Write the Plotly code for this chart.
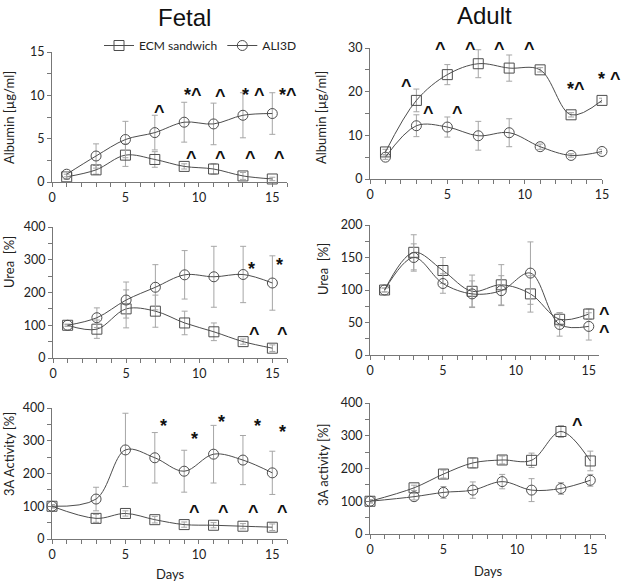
import plotly.graph_objects as go

# days sampled
days = [1, 3, 5, 7, 9, 11, 13, 15]
days_3a = [0, 3, 5, 7, 9, 11, 13, 15]

# Fetal
alb_f_ecm = [0.6, 1.4, 3.1, 2.6, 1.8, 1.5, 0.7, 0.35]
alb_f_ecm_err = [0.3, 0.5, 1.3, 0.9, 0.3, 0.6, 0.4, 0.2]
alb_f_ali = [0.9, 3.0, 4.9, 5.7, 6.9, 6.7, 7.7, 7.9]
alb_f_ali_err = [0.3, 1.4, 2.1, 2.0, 2.3, 2.4, 2.6, 2.4]

urea_f_ecm = [100, 88, 150, 143, 107, 80, 50, 30]
urea_f_ecm_err = [3, 28, 58, 49, 36, 27, 8, 10]
urea_f_ali = [100, 123, 177, 216, 254, 248, 255, 229]
urea_f_ali_err = [3, 30, 55, 69, 74, 93, 86, 83]

a3_f_ecm = [100, 63, 78, 59, 44, 42, 39, 36]
a3_f_ecm_err = [5, 12, 8, 10, 8, 8, 8, 10]
a3_f_ali = [100, 122, 272, 248, 207, 259, 241, 202]
a3_f_ali_err = [5, 36, 112, 77, 64, 88, 75, 66]

# Adult
alb_a_ecm = [6.2, 18.0, 23.9, 26.4, 25.4, 25.0, 14.7, 18.0]
alb_a_ecm_err = [0.6, 2.6, 2.3, 3.2, 3.0, 0.5, 0.5, 0.5]
alb_a_ali = [5.0, 12.2, 11.9, 9.9, 10.6, 7.4, 5.4, 6.3]
alb_a_ali_err = [0.5, 2.5, 2.3, 3.3, 3.2, 0.6, 0.4, 0.5]

urea_a_ecm = [100, 158, 130, 98, 108, 94, 55, 63]
urea_a_ecm_err = [3, 27, 20, 25, 31, 28, 10, 8]
urea_a_ali = [100, 150, 110, 94, 99, 126, 47, 44]
urea_a_ali_err = [3, 21, 15, 20, 23, 48, 18, 21]

a3_a_ecm = [100, 141, 183, 217, 226, 225, 313, 223]
a3_a_ecm_err = [5, 8, 12, 15, 12, 22, 18, 30]
a3_a_ali = [100, 114, 127, 134, 160, 134, 139, 164]
a3_a_ali_err = [5, 10, 18, 25, 22, 35, 18, 18]

# significance marks: (text, day, value)
sig_alb_f = [("^", 7.33, 8.5), ("*^", 9.6, 10.5), ("^", 11.5, 10.4), ("* ^", 13.75, 10.5),
             ("*^", 16.05, 10.5), ("^", 9.53, 3.2), ("^", 11.5, 3.2), ("^", 13.5, 3.2), ("^", 15.5, 3.2)]
sig_alb_a = [("^", 4.57, 30.8), ("^", 6.5, 30.8), ("^", 8.4, 30.8), ("^", 10.3, 30.8),
             ("^", 2.35, 22.3), ("*^", 13.35, 21.6), ("* ^", 15.5, 23.9), ("^", 3.75, 16), ("^", 5.65, 16)]
sig_urea_f = [("*", 13.56, 285), ("*", 15.5, 295), ("^", 13.75, 86), ("^", 15.7, 86)]
sig_urea_a = [("^", 16.1, 69), ("^", 16.1, 42)]
sig_a3_f = [("*", 7.56, 356), ("*", 9.67, 318), ("*", 11.53, 368), ("*", 14.0, 356), ("*", 15.66, 338),
            ("^", 9.67, 94), ("^", 11.7, 94), ("^", 13.7, 94), ("^", 15.7, 94)]
sig_a3_a = [("^", 14.1, 346)]

W, H = 622, 581
FONT = "Lato"
LINE = "#4d4d4d"
ERR = "#a6a6a6"

# panel layout in pixels
panels = [
    dict(x=days, ecm=alb_f_ecm, ecm_e=alb_f_ecm_err, ali=alb_f_ali, ali_e=alb_f_ali_err, sig=sig_alb_f,
         px=(52, 287), xmax=16, py=(52, 182), ymax=15, dtick=5, title="Albumin [µg/ml]", tpos=(9, 118)),
    dict(x=days, ecm=alb_a_ecm, ecm_e=alb_a_ecm_err, ali=alb_a_ali, ali_e=alb_a_ali_err, sig=sig_alb_a,
         px=(370, 602), xmax=15, py=(48, 179), ymax=30, dtick=10, title="Albumin [µg/ml]", tpos=(321, 117)),
    dict(x=days, ecm=urea_f_ecm, ecm_e=urea_f_ecm_err, ali=urea_f_ali, ali_e=urea_f_ali_err, sig=sig_urea_f,
         px=(53, 287), xmax=16, py=(227, 358), ymax=400, dtick=100, title="Urea  [%]", tpos=(9, 262)),
    dict(x=days, ecm=urea_a_ecm, ecm_e=urea_a_ecm_err, ali=urea_a_ali, ali_e=urea_a_ali_err, sig=sig_urea_a,
         px=(370, 599), xmax=15.7, py=(225, 355), ymax=200, dtick=50, title="Urea  [%]", tpos=(323, 269)),
    dict(x=days_3a, ecm=a3_f_ecm, ecm_e=a3_f_ecm_err, ali=a3_f_ali, ali_e=a3_f_ali_err, sig=sig_a3_f,
         px=(52, 287), xmax=16, py=(408, 539), ymax=400, dtick=100, title="3A Activity [%]", tpos=(9, 454)),
    dict(x=days_3a, ecm=a3_a_ecm, ecm_e=a3_a_ecm_err, ali=a3_a_ali, ali_e=a3_a_ali_err, sig=sig_a3_a,
         px=(370, 605), xmax=16, py=(403, 534), ymax=400, dtick=100, title="3A activity [%]", tpos=(323, 465)),
]

fig = go.Figure()
annotations = []

for i, p in enumerate(panels):
    n = "" if i == 0 else str(i + 1)
    xa, ya = "x" + n, "y" + n
    for name, ys, es, sym in [("ECM sandwich", p["ecm"], p["ecm_e"], "square-open"),
                              ("ALI3D", p["ali"], p["ali_e"], "circle-open")]:
        fig.add_trace(go.Scatter(
            x=p["x"], y=ys, xaxis=xa, yaxis=ya, name=name, showlegend=(i == 0),
            mode="lines+markers", cliponaxis=False, hoverinfo="skip",
            line=dict(color=LINE, width=1, shape="spline", smoothing=1),
            marker=dict(symbol=sym, size=10, color=LINE, line=dict(width=1)),
            error_y=dict(type="data", array=es, color=ERR, thickness=1, width=3),
        ))
    # significance marks (axis-domain refs so marks past the axis end still show)
    for txt, d, v in p["sig"]:
        annotations.append(dict(text=txt, x=d / p["xmax"], y=v / p["ymax"],
                                xref=xa + " domain", yref=ya + " domain",
                                xanchor="center", yanchor="middle", yshift=-4, showarrow=False,
                                font=dict(family="Liberation Sans", size=18, color="#111", weight="bold")))
    axis_common = dict(showgrid=False, zeroline=False, showline=True, linecolor="#777", linewidth=1,
                       ticks="outside", ticklen=4, tickcolor="#777",
                       tickfont=dict(family=FONT, size=12.5, color="#222"))
    fig.update_layout(**{
        "xaxis" + n: dict(axis_common, domain=[p["px"][0] / W, p["px"][1] / W], range=[0, p["xmax"]],
                          anchor=ya, tickmode="linear", tick0=0, dtick=5,
                          minor=dict(dtick=1, ticks="outside", ticklen=4, tickcolor="#777")),
        "yaxis" + n: dict(axis_common, domain=[1 - p["py"][1] / H, 1 - p["py"][0] / H], range=[0, p["ymax"]],
                          anchor=xa, tickmode="linear", tick0=0, dtick=p["dtick"],
                          minor=dict(dtick=p["dtick"] / 2, ticks="outside", ticklen=4, tickcolor="#777")),
    })
    annotations.append(dict(text=p["title"], x=p["tpos"][0] / W, y=1 - p["tpos"][1] / H, xref="paper", yref="paper",
                            xanchor="center", yanchor="middle", textangle=-90, showarrow=False,
                            font=dict(family=FONT, size=13, color="#222")))

labels = [
    dict(text="Fetal", x=184 / W, y=1 - 17 / H, font=dict(family="Liberation Sans", size=24, color="#111")),
    dict(text="Adult", x=484 / W, y=1 - 15 / H, font=dict(family="Liberation Sans", size=24, color="#111")),
    dict(text="Days", x=170 / W, y=1 - 574 / H, font=dict(family=FONT, size=13, color="#222")),
    dict(text="Days", x=488 / W, y=1 - 571 / H, font=dict(family=FONT, size=13, color="#222")),
]
for a in labels:
    a.update(xref="paper", yref="paper", xanchor="center", yanchor="middle", showarrow=False)
annotations += labels

fig.update_layout(
    width=W, height=H, margin=dict(l=0, r=0, t=0, b=0, autoexpand=False),
    paper_bgcolor="white", plot_bgcolor="white",
    annotations=annotations,
    legend=dict(orientation="h", x=99 / W, y=1 - 31 / H, xanchor="left", yanchor="top",
                font=dict(family=FONT, size=12, color="#222"), bgcolor="rgba(0,0,0,0)"),
)

# drop the default page margin so the figure sits at the window's corner
fig.write_html("out.html", config={"displayModeBar": False},
               post_script="document.body.style.margin='0';")
